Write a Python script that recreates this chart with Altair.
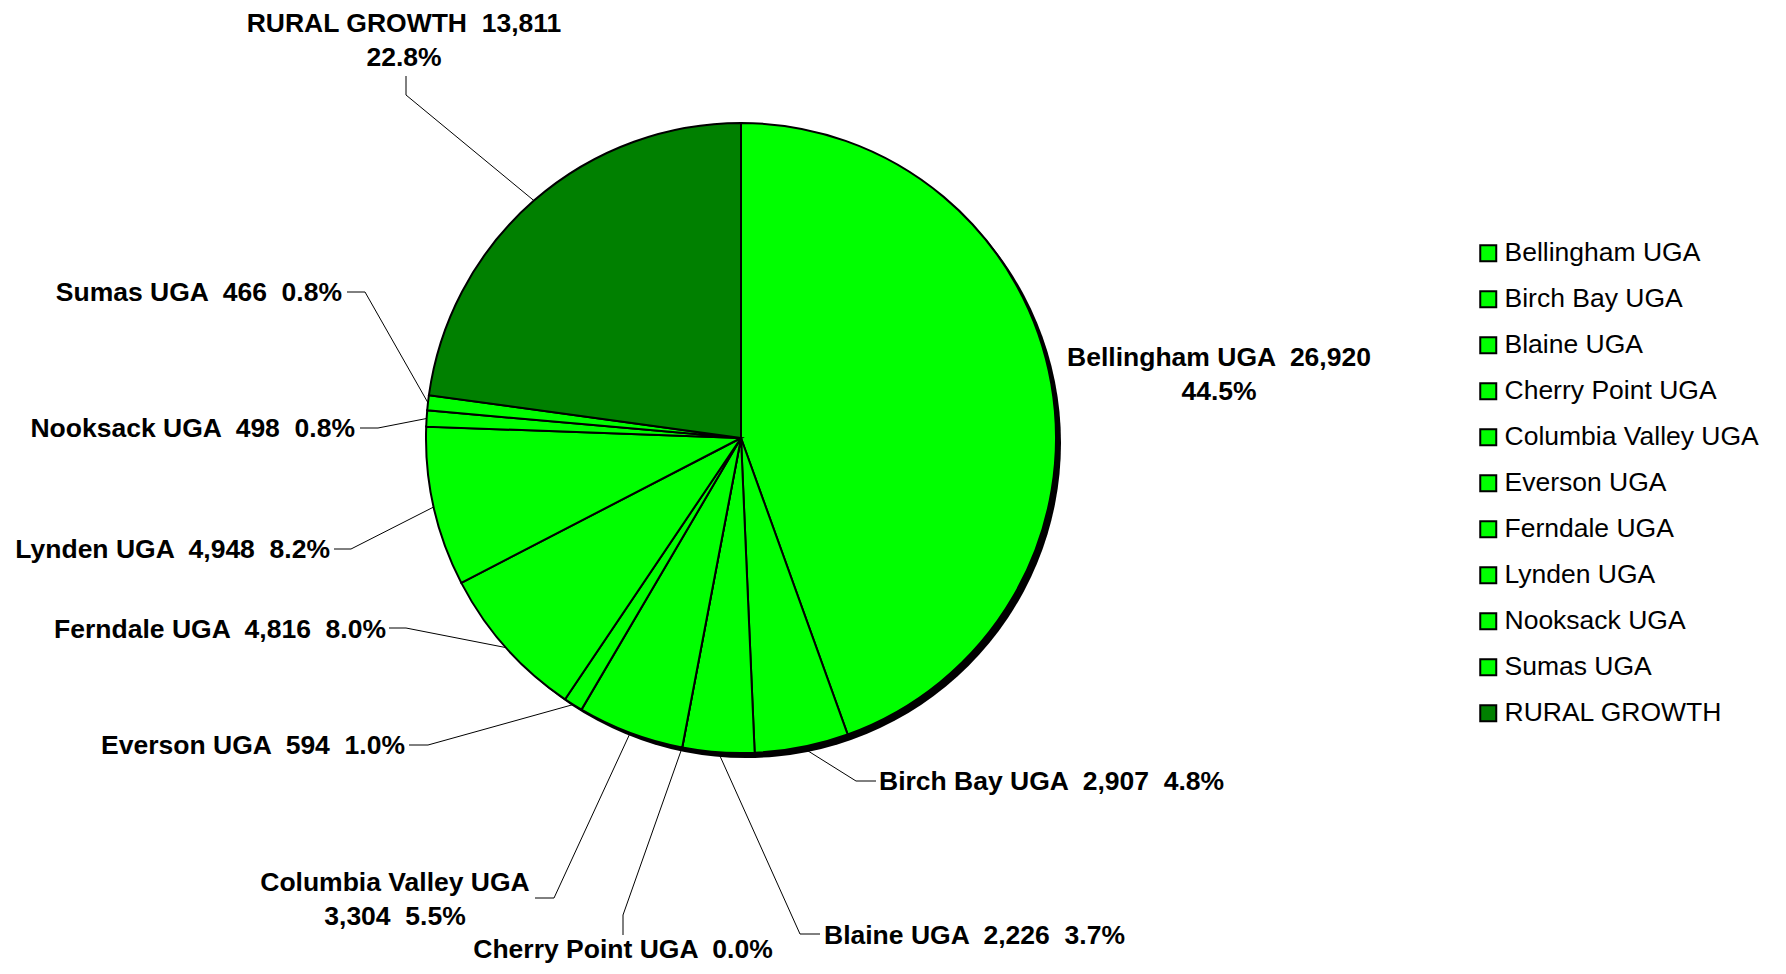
import math
import altair as alt
import pandas as pd

# ---------------- data ----------------
categories = ["Bellingham UGA", "Birch Bay UGA", "Blaine UGA", "Cherry Point UGA",
              "Columbia Valley UGA", "Everson UGA", "Ferndale UGA", "Lynden UGA",
              "Nooksack UGA", "Sumas UGA", "RURAL GROWTH"]
values = [26920, 2907, 2226, 0, 3304, 594, 4816, 4948, 498, 466, 13811]
colors = ["#00FF00"] * 10 + ["#008000"]

# ---------------- layout ----------------
W, H = 1770, 956          # whole chart (autosize none, padding 0)
CX, CY = 733, 430         # pie centre in chart pixels
R = 315                   # pie radius in pixels
SHADOW = 5
FONT = "Liberation Sans"
FS = 26.5
LH = 34

# label placement: offsets from the pie centre in pixels (dx right, dy down)
# split: how the label text is broken in lines
label_layout = {
    "Bellingham UGA":      dict(align="center", split="nv|p", pos=(478, -80), leader=None),
    "Birch Bay UGA":       dict(align="left",   split="nvp",  pos=(138, 344), leader=[(115, 343), (135, 343)]),
    "Blaine UGA":          dict(align="left",   split="nvp",  pos=(83, 498),  leader=[(59, 496), (79, 496)]),
    "Cherry Point UGA":    dict(align="center", split="nvp",  pos=(-118, 512), leader=[(-118, 477), (-118, 497)]),
    "Columbia Valley UGA": dict(align="center", split="n|vp", pos=(-346, 445), leader=[(-187, 460), (-206, 460)]),
    "Everson UGA":         dict(align="right",  split="nvp",  pos=(-336, 308), leader=[(-313, 307), (-332, 307)]),
    "Ferndale UGA":        dict(align="right",  split="nvp",  pos=(-355, 192), leader=[(-335, 190), (-352, 190)]),
    "Lynden UGA":          dict(align="right",  split="nvp",  pos=(-411, 112), leader=[(-390, 111), (-407, 111)]),
    "Nooksack UGA":        dict(align="right",  split="nvp",  pos=(-386, -9), leader=[(-363, -10), (-381, -10)]),
    "Sumas UGA":           dict(align="right",  split="nvp",  pos=(-399, -145), leader=[(-376, -146), (-394, -146)]),
    "RURAL GROWTH":        dict(align="center", split="nv|p", pos=(-337, -414), leader=[(-335, -343), (-335, -362)]),
}

total = sum(values)
SP = " \u00a0"  # double space kept in SVG


def to_u(dx):
    return dx / R


def to_v(dy):
    return -dy / R


# pie data
pie_df = pd.DataFrame({"category": categories, "value": values,
                       "idx": list(range(len(categories)))})

# labels and leader lines
text_rows, line_rows = [], []
cum = 0
for i, (cat, val) in enumerate(zip(categories, values)):
    pct = val / total * 100
    mid = 2 * math.pi * (cum + val / 2) / total
    cum += val
    vtxt = f"{val:,}" if val else ""
    ptxt = f"{pct:.1f}%"
    lay = label_layout[cat]
    if lay["split"] == "nvp":
        parts = [cat] + ([vtxt] if vtxt else []) + [ptxt]
        lines = [SP.join(parts)]
    elif lay["split"] == "nv|p":
        lines = [SP.join([cat, vtxt]), ptxt]
    else:
        lines = [cat, SP.join([vtxt, ptxt])]
    px, py = lay["pos"]
    for k, ln in enumerate(lines):
        text_rows.append(dict(category=cat, text=ln, align=lay["align"],
                              u=to_u(px), v=to_v(py + k * LH)))
    if lay["leader"]:
        pts = [(math.sin(mid) * 1.0, math.cos(mid) * 1.0)] + \
              [(to_u(a), to_v(b)) for a, b in lay["leader"]]
        for j, (u, v) in enumerate(pts):
            line_rows.append(dict(category=cat, pt=j, u=u, v=v))

text_df = pd.DataFrame(text_rows)
line_df = pd.DataFrame(line_rows)

xscale = alt.Scale(domain=[(0 - CX) / R, (W - CX) / R], nice=False, zero=False)
yscale = alt.Scale(domain=[(CY - H) / R, CY / R], nice=False, zero=False)

shadow = alt.Chart(pd.DataFrame({"k": [0]})).mark_arc(
    theta=0, theta2=2 * math.pi, radius=R, color="black"
).encode(x=alt.value(CX + SHADOW), y=alt.value(CY + SHADOW))

pie = alt.Chart(pie_df).mark_arc(radius=R, stroke="black", strokeWidth=2).encode(
    theta=alt.Theta("value:Q", stack=True),
    order=alt.Order("idx:Q"),
    color=alt.Color("category:N",
                    scale=alt.Scale(domain=categories, range=colors),
                    legend=alt.Legend(title=None, orient="none", legendX=1467, legendY=232,
                                      symbolType="square", symbolSize=256,
                                      symbolStrokeColor="black", symbolStrokeWidth=2,
                                      symbolOpacity=1, labelFont=FONT, labelFontSize=FS,
                                      labelColor="black", labelLimit=0, labelOffset=3,
                                      rowPadding=19)),
    x=alt.value(CX), y=alt.value(CY),
)

leaders = alt.Chart(line_df).mark_line(color="black", strokeWidth=1).encode(
    x=alt.X("u:Q", scale=xscale, axis=None),
    y=alt.Y("v:Q", scale=yscale, axis=None),
    detail="category:N",
    order="pt:Q",
)

texts = []
for al in ["left", "center", "right"]:
    texts.append(
        alt.Chart(text_df).transform_filter(alt.datum.align == al).mark_text(
            align=al, baseline="middle", font=FONT, fontSize=FS, fontWeight="bold", color="black"
        ).encode(
            x=alt.X("u:Q", scale=xscale, axis=None),
            y=alt.Y("v:Q", scale=yscale, axis=None),
            text="text:N",
        )
    )

chart = alt.layer(shadow, pie, leaders, *texts).properties(
    width=W, height=H, autosize=alt.AutoSizeParams(type="none"), padding=0
).configure_view(stroke=None)

chart.save("out.html", embed_options={"renderer": "svg", "actions": False})
